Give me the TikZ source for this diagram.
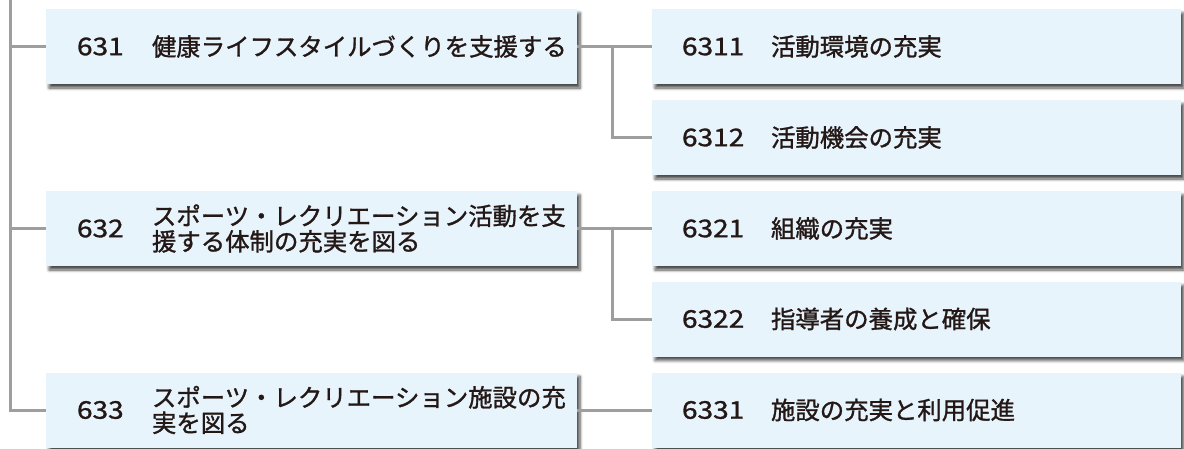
\documentclass[tikz,border=0pt]{standalone}
\usepackage{fontspec}
\newfontfamily\jpfont[FakeBold=1.2]{Noto Sans CJK JP}
\newfontfamily\numfont[FakeBold=1.2,FakeStretch=1.15]{Noto Sans CJK JP}
\usepackage{tikz}
\usetikzlibrary{shadows,shadows.blur,positioning,calc}
\definecolor{boxfill}{HTML}{E8F4FC}
\definecolor{linegray}{HTML}{9E9E9E}
\definecolor{inkblack}{HTML}{231815}

\begin{document}
\begin{tikzpicture}[
        x=1pt, y=-1pt,
        font=\jpfont\fontsize{24.4}{25.5}\selectfont,
        % Block styles
        box/.style={
            rectangle,
            fill=boxfill,
            inner sep=0pt,
            minimum height=75pt,
            minimum width=#1,
            blur shadow={shadow xshift=3pt, shadow yshift=-4pt,
                shadow blur radius=3pt, shadow blur steps=6,
                shadow opacity=70}
        },
        num/.style={
            inner sep=0pt,
            anchor=west,
            text=inkblack,
            font=\numfont\fontsize{24.4}{25.5}\selectfont
        },
        txt/.style={
            inner sep=0pt,
            anchor=west,
            align=left,
            text=inkblack
        },
        conn/.style={draw=linegray, line width=3pt}
    ]
    \useasboundingbox (0,0) rectangle (1184,448);

    % Trunk
    \coordinate (trunk) at (10,0);

    % Level 1
    \node[box=531pt] (b631) at (311.5, 46.5) {};
    \node[num] (n631) at ([xshift=31pt]b631.west) {631};
    \node[txt] (t631) at ([xshift=106pt]b631.west) {健康ライフスタイルづくりを支援する};

    \node[box=531pt] (b632) at (311.5, 228.5) {};
    \node[num] (n632) at ([xshift=31pt]b632.west) {632};
    \node[txt] (t632) at ([xshift=106pt]b632.west) {スポーツ・レクリエーション活動を支\\援する体制の充実を図る};

    \node[box=531pt] (b633) at (311.5, 410) {};
    \node[num] (n633) at ([xshift=31pt]b633.west) {633};
    \node[txt] (t633) at ([xshift=106pt]b633.west) {スポーツ・レクリエーション施設の充\\実を図る};

    % Level 2
    \node[box=529pt] (b6311) at (916.5, 46.5) {};
    \node[num] (n6311) at ([xshift=30pt]b6311.west) {6311};
    \node[txt] (t6311) at ([xshift=119pt]b6311.west) {活動環境の充実};

    \node[box=529pt] (b6312) at (916.5, 137.5) {};
    \node[num] (n6312) at ([xshift=30pt]b6312.west) {6312};
    \node[txt] (t6312) at ([xshift=119pt]b6312.west) {活動機会の充実};

    \node[box=529pt] (b6321) at (916.5, 228.5) {};
    \node[num] (n6321) at ([xshift=30pt]b6321.west) {6321};
    \node[txt] (t6321) at ([xshift=119pt]b6321.west) {組織の充実};

    \node[box=529pt] (b6322) at (916.5, 319) {};
    \node[num] (n6322) at ([xshift=30pt]b6322.west) {6322};
    \node[txt] (t6322) at ([xshift=119pt]b6322.west) {指導者の養成と確保};

    \node[box=529pt] (b6331) at (916.5, 410) {};
    \node[num] (n6331) at ([xshift=30pt]b6331.west) {6331};
    \node[txt] (t6331) at ([xshift=119pt]b6331.west) {施設の充実と利用促進};

    % Connections
    \draw[conn] (trunk) |- (b633.west);
    \draw[conn] (trunk |- b631.west) -- (b631.west);
    \draw[conn] (trunk |- b632.west) -- (b632.west);

    \draw[conn] (b631.east) -- (b6311.west);
    \draw[conn] ([xshift=35pt]b631.east) |- (b6312.west);
    \draw[conn] (b632.east) -- (b6321.west);
    \draw[conn] ([xshift=35pt]b632.east) |- (b6322.west);
    \draw[conn] (b633.east) -- (b6331.west);

    \end{tikzpicture}
\end{document}
